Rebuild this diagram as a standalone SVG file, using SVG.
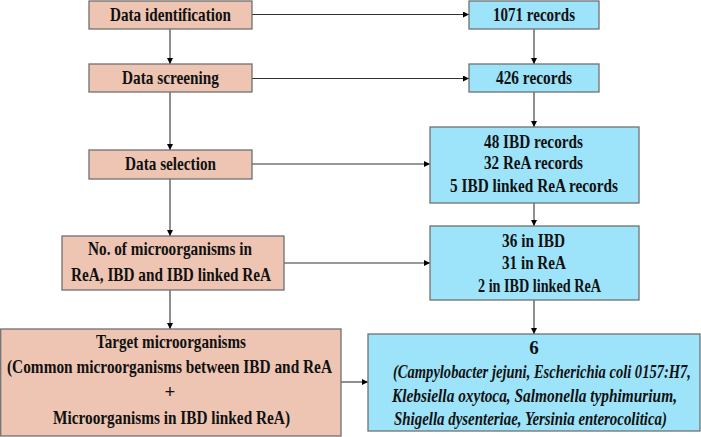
<svg xmlns="http://www.w3.org/2000/svg" width="701" height="437" viewBox="0 0 701 437">
<style>
.p{fill:#EEC5B3;stroke:#707070;stroke-width:1.3}
.b{fill:#9DE4FA;stroke:#707070;stroke-width:1.3}
text{font-family:"Liberation Serif","Times New Roman",serif;font-weight:bold;font-size:19px;fill:#111;text-anchor:middle}
.i{font-style:italic;font-size:18px}
#connectors line{stroke:#333;stroke-width:1.1;marker-end:url(#ah)}
</style>
<defs>
<marker id="ah" viewBox="0 0 10 10" refX="10" refY="5" markerWidth="6" markerHeight="6" orient="auto" markerUnits="userSpaceOnUse">
<path d="M0,0 L10,5 L0,10 z" fill="#000"/>
</marker>
</defs>
<rect width="701" height="437" fill="#fff"/>
<g id="connectors">
<line x1="170" y1="29" x2="170" y2="64"/>
<line x1="170" y1="92" x2="170" y2="150"/>
<line x1="170" y1="179" x2="170" y2="236"/>
<line x1="170" y1="290" x2="170" y2="329"/>
<line x1="534" y1="29" x2="534" y2="64"/>
<line x1="534" y1="92" x2="534" y2="127"/>
<line x1="534" y1="203" x2="534" y2="226"/>
<line x1="534" y1="300" x2="534" y2="334"/>
<line x1="252" y1="14.5" x2="469" y2="14.5"/>
<line x1="252" y1="78.5" x2="469" y2="78.5"/>
<line x1="252" y1="164" x2="430" y2="164"/>
<line x1="284" y1="263" x2="430" y2="263"/>
<line x1="341" y1="382" x2="368" y2="382"/>
</g>
<g id="n1"><rect class="p" x="89" y="1" width="163" height="28"/><text x="170.5" y="21" textLength="121" lengthAdjust="spacingAndGlyphs">Data identification</text></g>
<g id="n2"><rect class="p" x="89" y="64" width="163" height="28"/><text x="170.5" y="84" textLength="97" lengthAdjust="spacingAndGlyphs">Data screening</text></g>
<g id="n3"><rect class="p" x="89" y="150" width="163" height="29"/><text x="170.5" y="170" textLength="91" lengthAdjust="spacingAndGlyphs">Data selection</text></g>
<g id="n4"><rect class="p" x="62" y="236" width="222" height="54"/>
<text x="170" y="255" textLength="164" lengthAdjust="spacingAndGlyphs">No. of microorganisms in</text>
<text x="171" y="281" textLength="200" lengthAdjust="spacingAndGlyphs">ReA, IBD and IBD linked ReA</text></g>
<g id="n5"><rect class="p" x="0.7" y="329" width="340.3" height="107"/>
<text x="171" y="348" textLength="150" lengthAdjust="spacingAndGlyphs">Target microorganisms</text>
<text x="169.5" y="373" textLength="325" lengthAdjust="spacingAndGlyphs">(Common microorganisms between IBD and ReA</text>
<text x="170" y="398">+</text>
<text x="171.5" y="424" textLength="237" lengthAdjust="spacingAndGlyphs">Microorganisms in IBD linked ReA)</text></g>
<g id="n6"><rect class="b" x="469" y="1" width="130" height="28"/><text x="534" y="21" textLength="82" lengthAdjust="spacingAndGlyphs">1071 records</text></g>
<g id="n7"><rect class="b" x="469" y="64" width="130" height="28"/><text x="534" y="84" textLength="76" lengthAdjust="spacingAndGlyphs">426 records</text></g>
<g id="n8"><rect class="b" x="430" y="127" width="209" height="76"/>
<text x="533.5" y="148" textLength="99" lengthAdjust="spacingAndGlyphs">48 IBD records</text>
<text x="533.5" y="169" textLength="99" lengthAdjust="spacingAndGlyphs">32 ReA records</text>
<text x="534" y="192" textLength="168" lengthAdjust="spacingAndGlyphs">5 IBD linked ReA records</text></g>
<g id="n9"><rect class="b" x="430" y="226" width="209" height="74"/>
<text x="533.5" y="247" textLength="63" lengthAdjust="spacingAndGlyphs">36 in IBD</text>
<text x="534" y="269" textLength="64" lengthAdjust="spacingAndGlyphs">31 in ReA</text>
<text x="539.5" y="292" textLength="123" lengthAdjust="spacingAndGlyphs">2 in IBD linked ReA</text></g>
<g id="n10"><rect class="b" x="368" y="334" width="332" height="97"/>
<text x="534" y="354">6</text>
<text class="i" transform="scale(0.8,1)" x="677.5" y="378" textLength="372.5" lengthAdjust="spacingAndGlyphs">(Campylobacter jejuni, Escherichia coli 0157:H7,</text>
<text class="i" transform="scale(0.8,1)" x="668.1" y="402" textLength="356.3" lengthAdjust="spacingAndGlyphs">Klebsiella oxytoca, Salmonella typhimurium,</text>
<text class="i" transform="scale(0.8,1)" x="663.1" y="425" textLength="341.3" lengthAdjust="spacingAndGlyphs">Shigella dysenteriae, Yersinia enterocolitica)</text></g>
</svg>
